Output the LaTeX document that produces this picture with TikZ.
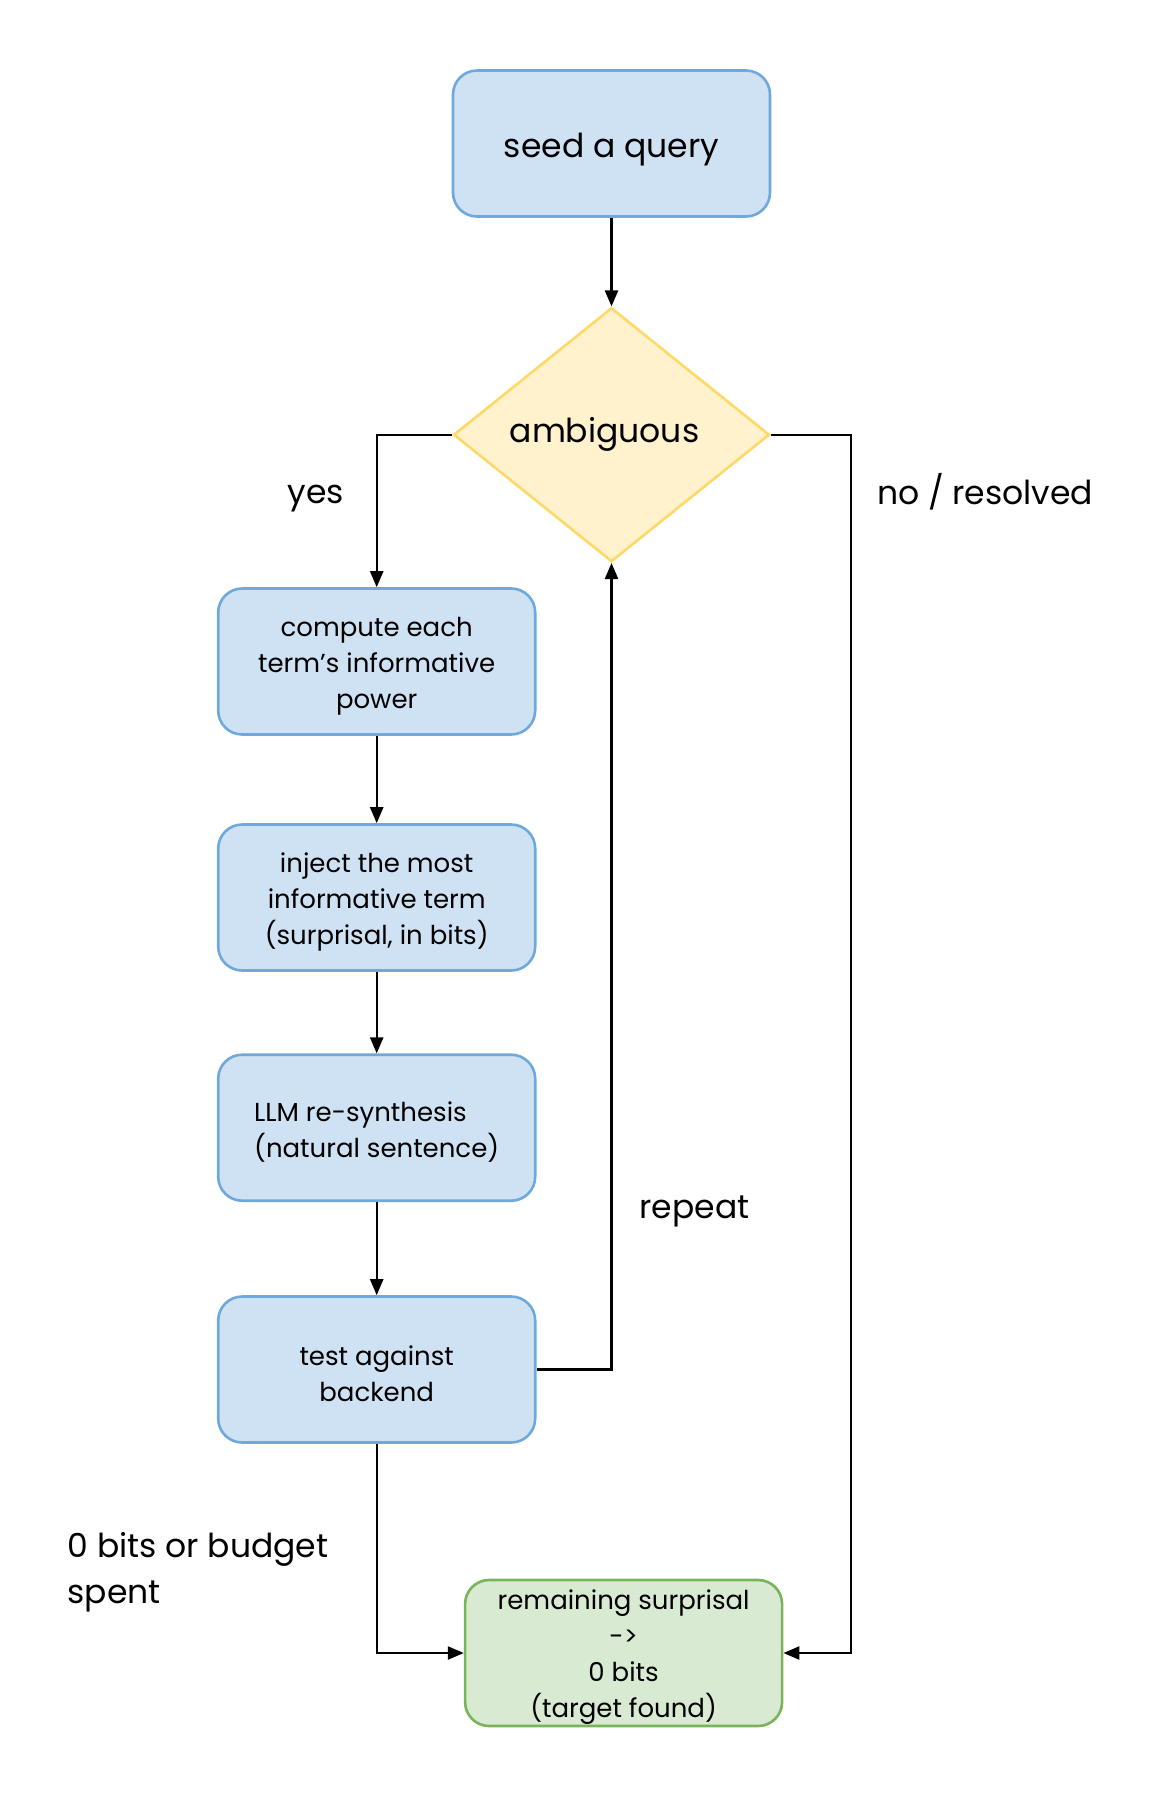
\documentclass[tikz,border=0pt]{standalone}
\usepackage{fontspec}
\setmainfont{Poppins}
\usetikzlibrary{shapes.geometric,arrows.meta}

\definecolor{stepfill}{RGB}{207,226,243}
\definecolor{stepline}{RGB}{111,168,220}
\definecolor{askfill}{RGB}{255,242,204}
\definecolor{askline}{RGB}{255,217,102}
\definecolor{donefill}{RGB}{217,234,211}
\definecolor{doneline}{RGB}{120,180,90}

\newcommand{\topgap}{\rule{0pt}{1.1em}}

\tikzset{
    stepbox/.style={draw=stepline, fill=stepfill, line width=2.6pt, rounded corners=24pt,
        minimum width=317pt, minimum height=146pt, align=center,
        font=\fontsize{26}{36}\selectfont},
    askbox/.style={diamond, draw=askline, fill=askfill, line width=2.6pt, inner sep=0pt,
        minimum width=316pt, minimum height=254pt, font=\fontsize{33}{40}\selectfont},
    donebox/.style={stepbox, draw=doneline, fill=donefill, inner ysep=0pt},
    flow/.style={line width=2.4pt, -{Triangle[length=16pt,width=13pt]}},
    tag/.style={font=\fontsize{33}{46}\selectfont, align=left}
}

\begin{document}
\begin{tikzpicture}[x=1pt, y=-1pt]
    \useasboundingbox (0,0) rectangle (1161,1800);
    %boxes
    \node [stepbox, font=\fontsize{33}{40}\selectfont] (seed) at (611.5,143.5) {\topgap seed a query};
    \node [askbox] (ambig) at (611.5,434.7) {\hspace*{-14pt}ambiguous};
    \node [stepbox] (power) at (376.7,661.5) {\topgap compute each\\term’s informative\\power};
    \node [stepbox] (inject) at (376.7,897.5) {\topgap inject the most\\informative term\\(surprisal, in bits)};
    \node [stepbox, align=left] (resyn) at (376.7,1127.7) {\topgap LLM re-synthesis\\(natural sentence)};
    \node [stepbox] (test) at (376.7,1369.5) {\topgap test against\\backend};
    \node [donebox] (found) at (623.6,1653) {\topgap remaining surprisal\\->\\0 bits\\(target found)};
    %bends
    \coordinate (bus) at (851,1653);
    %arrows
    \draw [flow] (seed) -- (ambig);
    \draw [flow] (ambig.west) -| (power.north);
    \draw [flow] (power) -- (inject);
    \draw [flow] (inject) -- (resyn);
    \draw [flow] (resyn) -- (test);
    \draw [flow] (test.east) -| (ambig.south);
    \draw [flow] (ambig.east) -| (bus) -- (found.east);
    \draw [flow] (test.south) |- (found.west);
    %labels
    \node [tag] (yes) at (315.8,498.5) {yes};
    \node [tag, anchor=west] (no) at (873.5,491.5) {no / resolved};
    \node [tag, anchor=west] (again) at (636,1211.5) {repeat};
    \node [tag, anchor=west] (stop) at (64,1572) {0 bits or budget\\spent};
\end{tikzpicture}
\end{document}
